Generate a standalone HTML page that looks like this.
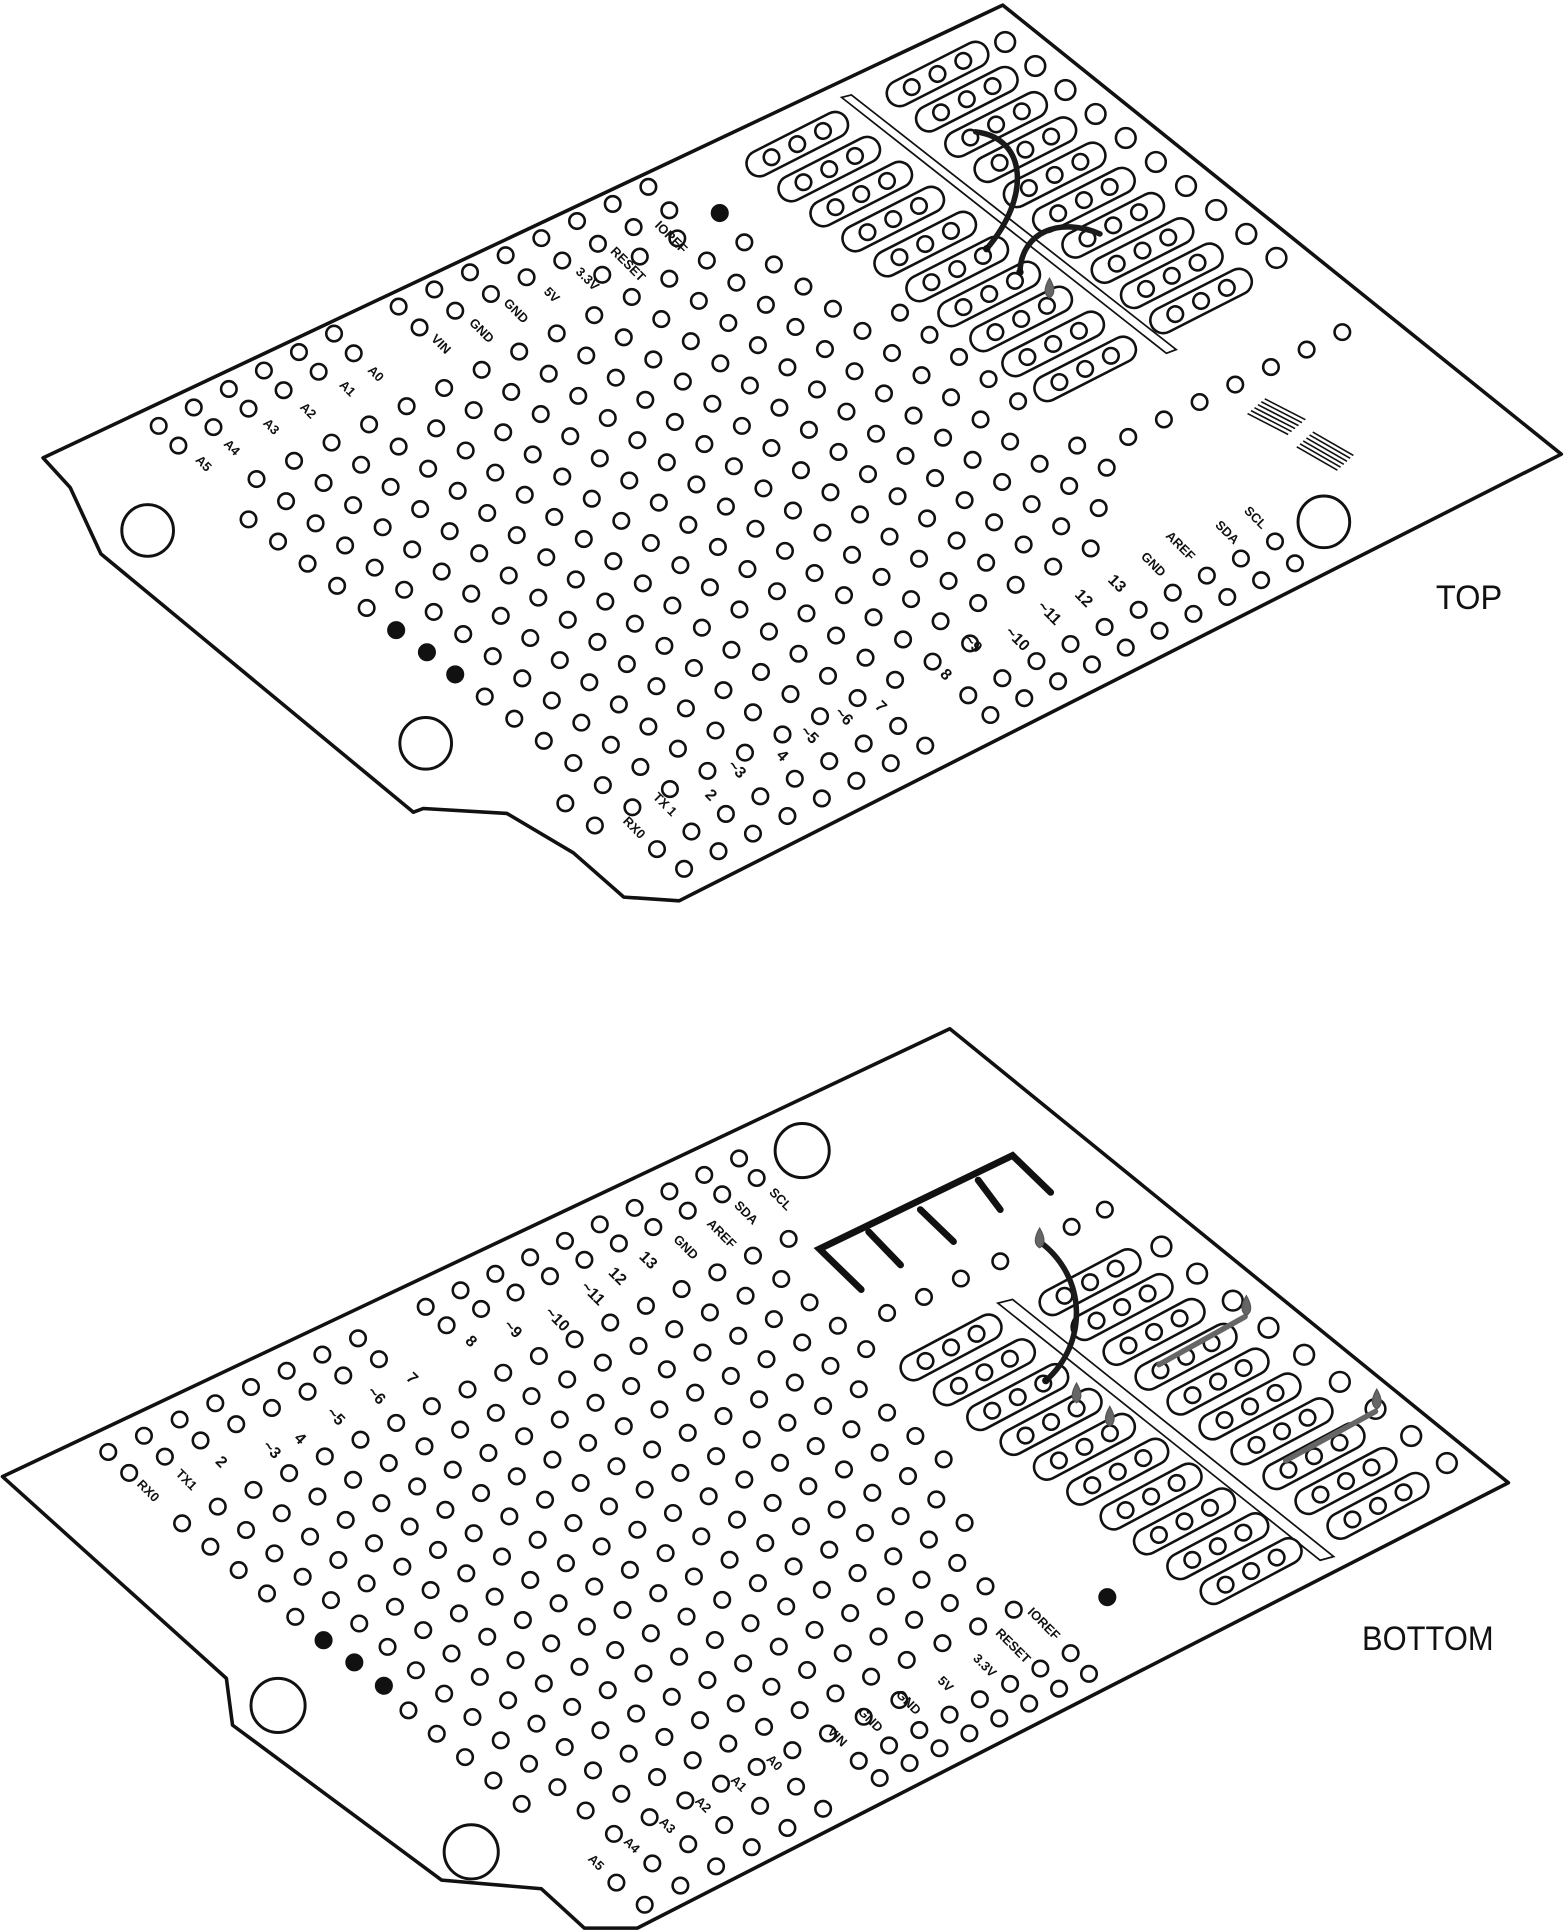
<!DOCTYPE html>
<html><head><meta charset="utf-8">
<style>
html,body{margin:0;padding:0;background:#fff;}
svg{display:block;}
.lb{font-family:"Liberation Sans",sans-serif;font-weight:bold;font-size:10.5px;fill:#111;}
.dg{font-family:"Liberation Sans",sans-serif;font-weight:bold;font-size:13px;fill:#111;}
.big{font-family:"Liberation Sans",sans-serif;font-size:28px;fill:#111;}
</style></head>
<body>
<svg id="s" xmlns="http://www.w3.org/2000/svg" width="1565" height="1932" viewBox="0 0 1272 1570">
<g fill="none" stroke="#111" stroke-width="2.9" stroke-linejoin="round">
<path d="M35,372 L815,4 L1269,369 L552,732 L507,729 L466,693 L412,661 L344,657 L336,660 L82,450 L57,396 Z"/>
<path d="M2,1200 L772,836 L1226,1205 L518,1567 L475,1567 L440,1535 L359,1528 L189,1402 L184,1364 Z"/>
</g>
<g id="holes" fill="none" stroke="#111" stroke-width="2.1"></g>
<g id="labels">
<text class="lb" transform="translate(163,379) rotate(45)" text-anchor="middle">A5</text>
<text class="lb" transform="translate(186,366) rotate(45)" text-anchor="middle">A4</text>
<text class="lb" transform="translate(218,349) rotate(45)" text-anchor="middle">A3</text>
<text class="lb" transform="translate(248,336) rotate(45)" text-anchor="middle">A2</text>
<text class="lb" transform="translate(280,318) rotate(45)" text-anchor="middle">A1</text>
<text class="lb" transform="translate(303,306) rotate(45)" text-anchor="middle">A0</text>
<text class="lb" transform="translate(356,282) rotate(45)" text-anchor="middle">VIN</text>
<text class="lb" transform="translate(389,271) rotate(45)" text-anchor="middle">GND</text>
<text class="lb" transform="translate(417,255) rotate(45)" text-anchor="middle">GND</text>
<text class="lb" transform="translate(446,242) rotate(45)" text-anchor="middle">5V</text>
<text class="lb" transform="translate(475,229) rotate(45)" text-anchor="middle">3.3V</text>
<text class="lb" transform="translate(508,217) rotate(45)" text-anchor="middle">RESET</text>
<text class="lb" transform="translate(543,195) rotate(45)" text-anchor="middle">IOREF</text>
<text class="lb" transform="translate(513,675) rotate(45)" text-anchor="middle">RX0</text>
<text class="lb" transform="translate(538,656) rotate(45)" text-anchor="middle">TX 1</text>
<text class="dg" transform="translate(575,649) rotate(45)" text-anchor="middle">2</text>
<text class="dg" transform="translate(596,628) rotate(45)" text-anchor="middle">~3</text>
<text class="dg" transform="translate(633,617) rotate(45)" text-anchor="middle">4</text>
<text class="dg" transform="translate(655,600) rotate(45)" text-anchor="middle">~5</text>
<text class="dg" transform="translate(683,585) rotate(45)" text-anchor="middle">~6</text>
<text class="dg" transform="translate(713,577) rotate(45)" text-anchor="middle">7</text>
<text class="dg" transform="translate(766,551) rotate(45)" text-anchor="middle">8</text>
<text class="dg" transform="translate(788,526) rotate(45)" text-anchor="middle">~9</text>
<text class="dg" transform="translate(824,522) rotate(45)" text-anchor="middle">~10</text>
<text class="dg" transform="translate(850,501) rotate(45)" text-anchor="middle">~11</text>
<text class="dg" transform="translate(878,489) rotate(45)" text-anchor="middle">12</text>
<text class="dg" transform="translate(905,477) rotate(45)" text-anchor="middle">13</text>
<text class="lb" transform="translate(935,461) rotate(45)" text-anchor="middle">GND</text>
<text class="lb" transform="translate(957,446) rotate(45)" text-anchor="middle">AREF</text>
<text class="lb" transform="translate(995,435) rotate(45)" text-anchor="middle">SDA</text>
<text class="lb" transform="translate(1018,423) rotate(45)" text-anchor="middle">SCL</text>
<text class="big" x="1167" y="495" textLength="54" lengthAdjust="spacingAndGlyphs">TOP</text>
<text class="lb" transform="translate(118,1214) rotate(45)" text-anchor="middle">RX0</text>
<text class="lb" transform="translate(149,1205) rotate(45)" text-anchor="middle">TX1</text>
<text class="dg" transform="translate(177,1191) rotate(45)" text-anchor="middle">2</text>
<text class="dg" transform="translate(218,1181) rotate(45)" text-anchor="middle">~3</text>
<text class="dg" transform="translate(241,1172) rotate(45)" text-anchor="middle">4</text>
<text class="dg" transform="translate(270,1154) rotate(45)" text-anchor="middle">~5</text>
<text class="dg" transform="translate(303,1137) rotate(45)" text-anchor="middle">~6</text>
<text class="dg" transform="translate(332,1123) rotate(45)" text-anchor="middle">7</text>
<text class="dg" transform="translate(380,1093) rotate(45)" text-anchor="middle">8</text>
<text class="dg" transform="translate(414,1083) rotate(45)" text-anchor="middle">~9</text>
<text class="dg" transform="translate(450,1075) rotate(45)" text-anchor="middle">~10</text>
<text class="dg" transform="translate(479,1054) rotate(45)" text-anchor="middle">~11</text>
<text class="dg" transform="translate(499,1040) rotate(45)" text-anchor="middle">12</text>
<text class="dg" transform="translate(524,1027) rotate(45)" text-anchor="middle">13</text>
<text class="lb" transform="translate(555,1016) rotate(45)" text-anchor="middle">GND</text>
<text class="lb" transform="translate(584,1005) rotate(45)" text-anchor="middle">AREF</text>
<text class="lb" transform="translate(604,988) rotate(45)" text-anchor="middle">SDA</text>
<text class="lb" transform="translate(632,977) rotate(45)" text-anchor="middle">SCL</text>
<text class="lb" transform="translate(482,1516) rotate(45)" text-anchor="middle">A5</text>
<text class="lb" transform="translate(511,1502) rotate(45)" text-anchor="middle">A4</text>
<text class="lb" transform="translate(540,1486) rotate(45)" text-anchor="middle">A3</text>
<text class="lb" transform="translate(569,1469) rotate(45)" text-anchor="middle">A2</text>
<text class="lb" transform="translate(598,1452) rotate(45)" text-anchor="middle">A1</text>
<text class="lb" transform="translate(627,1435) rotate(45)" text-anchor="middle">A0</text>
<text class="lb" transform="translate(678,1414) rotate(45)" text-anchor="middle">VIN</text>
<text class="lb" transform="translate(705,1400) rotate(45)" text-anchor="middle">GND</text>
<text class="lb" transform="translate(736,1386) rotate(45)" text-anchor="middle">GND</text>
<text class="lb" transform="translate(766,1371) rotate(45)" text-anchor="middle">5V</text>
<text class="lb" transform="translate(798,1356) rotate(45)" text-anchor="middle">3.3V</text>
<text class="lb" transform="translate(821,1340) rotate(45)" text-anchor="middle">RESET</text>
<text class="lb" transform="translate(846,1322) rotate(45)" text-anchor="middle">IOREF</text>
<text class="big" x="1107" y="1341" textLength="107" lengthAdjust="spacingAndGlyphs">BOTTOM</text>
</g>
<g id="over"></g>
</svg>
<script>
(function(){
var NS="http://www.w3.org/2000/svg";
var H=document.getElementById("holes"), O=document.getElementById("over");
function el(p,t,a){var e=document.createElementNS(NS,t);for(var k in a)e.setAttribute(k,a[k]);p.appendChild(e);return e;}
var pts=[];
function hole(x,y,r){el(H,"circle",{cx:x.toFixed(1),cy:y.toFixed(1),r:r||6.3});pts.push([x,y,(r||6.3)]);}
function dot(x,y){el(H,"circle",{cx:x,cy:y,r:6.3,fill:"#111"});pts.push([x,y,6.3]);}
function row(x,y,dx,dy,n){for(var i=0;i<n;i++)hole(x+i*dx,y+i*dy);}
function strip(cx,cy,ang){
  var g=el(H,"g",{transform:"translate("+cx+","+cy+") rotate("+ang+")"});
  el(g,"rect",{x:-45,y:-10.5,width:90,height:21,rx:10.5});
  for(var k=-1;k<=1;k++)el(g,"circle",{cx:k*23.5,cy:0,r:6.3});
  pts.push([cx,cy,45]);
}
function mount(x,y,r){el(H,"circle",{cx:x,cy:y,r:r,"stroke-width":2.4});pts.push([x,y,r+8]);}
mount(120,431,21);mount(346,604,21);mount(1076,424,21);
row(129,346,28.5,-15,6);row(145,362,28.5,-15,6);
row(324,249,29,-13.9,8);row(341,266,29,-13.6,8);
row(534,690,28,-14.3,8);row(556,706,28,-14.3,8);
row(787,565,27.7,-13.9,10);row(805,581,27.5,-13.7,10);
dot(585,173);dot(322,512);dot(347,530);dot(370,548);
for(var i=0;i<10;i++)strip(648+i*26,117+i*20.3,-27);
for(var i=0;i<10;i++)strip(762+i*23.8,60+i*20.5,-27);
for(var i=0;i<10;i++)hole(817+i*24.5,34+i*19.5,8);
row(917,355,29,-14.2,7);
el(H,"path",{d:"M684,79 L948,287 L956,284 L692,77 Z","stroke-width":1.4});
for(var k=0;k<6;k++){el(H,"line",{x1:1028-2.8*k,y1:324+2.4*k,x2:1061-2.8*k,y2:341+2.4*k,"stroke-width":1.3});
 el(H,"line",{x1:1067-2.6*k,y1:351+2.4*k,x2:1100-2.6*k,y2:370+2.4*k,"stroke-width":1.3});}
mount(652,935,22);mount(226,1386,22);mount(383,1505,22);
row(88,1180,29,-13.2,8);row(105,1197,29,-13.2,8);
row(346,1062,28.3,-13.4,10);row(363,1077,28,-13.3,10);
row(501,1530,29.2,-15.6,6);row(524,1548,29,-15.6,6);
row(698,1431,24.6,-12.5,8);row(715,1445,24.3,-12.1,8);
dot(900,1298);dot(263,1333);dot(288,1351);dot(312,1370);
for(var i=0;i<10;i++)strip(773+i*27.1,1095+i*20.2,-28);
for(var i=0;i<10;i++)strip(886+i*26,1042+i*20.2,-28);
for(var i=0;i<9;i++)hole(944+i*29,1013+i*22,8);
hole(898,983);hole(871,997);hole(813,1025);hole(781,1039);hole(751,1054);hole(721,1067);
el(H,"path",{d:"M811,1059 L1073,1268 L1084,1265 L823,1056 Z","stroke-width":1.4});
el(H,"path",{d:"M700,1048 L666,1015 L823,939 L854,969 M706,1001 L732,1028 M748,983 L775,1009 M795,959 L813,983","stroke-width":5.5,"stroke-linecap":"round","stroke-linejoin":"miter"});
function inPoly(x,y,P){var c=false;for(var i=0,j=P.length-1;i<P.length;j=i++){var xi=P[i][0],yi=P[i][1],xj=P[j][0],yj=P[j][1];
 if(((yi>y)!=(yj>y))&&(x<(xj-xi)*(y-yi)/(yj-yi)+xi))c=!c;}return c;}
function grid(ax,ay,a,b,P){
 var list=[];
 for(var i=-30;i<=30;i++)for(var j=-30;j<=30;j++){
  var x=ax+i*a[0]+j*b[0], y=ay+i*a[1]+j*b[1];
  if(!inPoly(x,y,P))continue;
  var ok=true;
  for(var k=0;k<pts.length;k++){var p=pts[k];var d=Math.hypot(p[0]-x,p[1]-y);if(d<p[2]+9){ok=false;break;}}
  if(ok)list.push([x,y]);
 }
 list.forEach(function(q){el(H,"circle",{cx:q[0].toFixed(1),cy:q[1].toFixed(1),r:6.3});});
}
grid(322,512,[30.5,-14.8],[24,18],[[190,398],[560,180],[615,178],[905,362],[915,440],[770,540],[515,676],[500,690],[195,420]]);
grid(263,1333,[29,-13.6],[23,19],[[138,1228],[640,992],[665,1048],[735,1128],[830,1298],[842,1322],[520,1502],[440,1480],[250,1347],[138,1248]]);
function blob(x,y){el(O,"path",{d:"M"+x+","+(y-11)+" Q"+(x+7)+","+(y+1)+" "+x+","+(y+5)+" Q"+(x-7)+","+(y+1)+" "+x+","+(y-11)+"Z",fill:"#666",stroke:"#555","stroke-width":1});}
el(O,"path",{d:"M793,107 C835,112 838,160 802,202",fill:"none",stroke:"#1a1a1a","stroke-width":4.5,"stroke-linecap":"round"});
el(O,"path",{d:"M829,221 C830,188 862,176 894,190",fill:"none",stroke:"#1a1a1a","stroke-width":4.5,"stroke-linecap":"round"});
el(O,"circle",{cx:802,cy:202,r:3,fill:"#111"});el(O,"circle",{cx:829,cy:221,r:3,fill:"#111"});
blob(853,237);
el(O,"path",{d:"M845,1009 C884,1038 884,1092 850,1122",fill:"none",stroke:"#1a1a1a","stroke-width":4.5,"stroke-linecap":"round"});
el(O,"circle",{cx:850,cy:1122,r:3,fill:"#111"});
blob(845,1009);blob(875,1135);blob(902,1154);
el(O,"line",{x1:942,y1:1109,x2:1012,y2:1070,stroke:"#666","stroke-width":4.5,"stroke-linecap":"round"});
el(O,"line",{x1:1045,y1:1187,x2:1118,y2:1147,stroke:"#666","stroke-width":4.5,"stroke-linecap":"round"});
blob(1013,1064);blob(1119,1140);
})();
</script>
</body></html>
